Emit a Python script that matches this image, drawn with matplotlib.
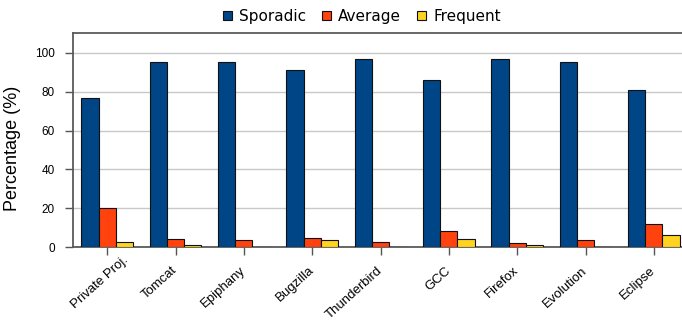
import matplotlib
matplotlib.use("Agg")
import matplotlib.pyplot as plt
import matplotlib.transforms as mtrans
import numpy as np

categories = ["Private Proj.", "Tomcat", "Epiphany", "Bugzilla", "Thunderbird",
              "GCC", "Firefox", "Evolution", "Eclipse"]
sporadic = [77, 95, 95, 91, 97, 86, 97, 95, 81]
average = [20, 4.5, 3.6, 5, 2.5, 8.4, 2.3, 3.6, 11.8]
frequent = [2.6, 1.2, 0.3, 3.8, 0.4, 4.4, 1.2, 0.3, 6.5]
series_names = ["Sporadic", "Average", "Frequent"]
colors = ["#004586", "#ff420e", "#ffd320"]
yticks = [0, 20, 40, 60, 80, 100]

fig = plt.figure(figsize=(6.82, 3.23), dpi=100)
ax = fig.add_axes([73/682, 75.7/323, (688-73)/682, (247.3-33.3)/323])

x = np.arange(len(categories))
w = 0.253
for i, (vals, name, c) in enumerate(zip([sporadic, average, frequent], series_names, colors)):
    ax.bar(x + (i - 1) * w, vals, width=w, color=c, edgecolor="#111111",
           linewidth=0.8, label=name, zorder=3)

ax.set_xlim(-0.5, 8.5)
ax.set_ylim(0, 110)
ax.set_yticks(yticks)
ax.set_yticklabels([str(v) for v in yticks], fontsize=8.5, family="Liberation Sans")
ax.set_xticks(x)
ax.set_xticklabels(categories, rotation=42, ha="right", va="center",
                   rotation_mode="anchor", fontsize=9.5, family="Liberation Sans")
ax.yaxis.grid(True, color="#c8c8c8", linewidth=1.0, zorder=0)
ax.set_axisbelow(True)
for s in ["left", "top", "bottom"]:
    ax.spines[s].set_color("#5a5a5a")
    ax.spines[s].set_linewidth(1.3)
ax.spines["right"].set_visible(False)
ax.tick_params(axis="both", length=6, width=1, color="#555555")
ax.tick_params(axis="y", pad=7)
ax.tick_params(axis="x", pad=9.5)

# first label shifted up-right as in the reference
lbl = ax.get_xticklabels()[0]
lbl.set_transform(lbl.get_transform() +
                  mtrans.ScaledTranslation(13.7/72, 7.5/72, fig.dpi_scale_trans))

ax.set_ylabel("Percentage (%)", fontsize=13, family="Liberation Sans")
ax.yaxis.set_label_coords((21-73)/615, (247.3-148.5)/214)

leg = fig.legend(loc="center", bbox_to_anchor=(362/682, 1 - 16.5/323), ncol=3,
                 frameon=False, fontsize=11, handlelength=0.6, handleheight=0.6,
                 handletextpad=0.45, columnspacing=1.05)

fig.savefig("out.png", dpi=100)
